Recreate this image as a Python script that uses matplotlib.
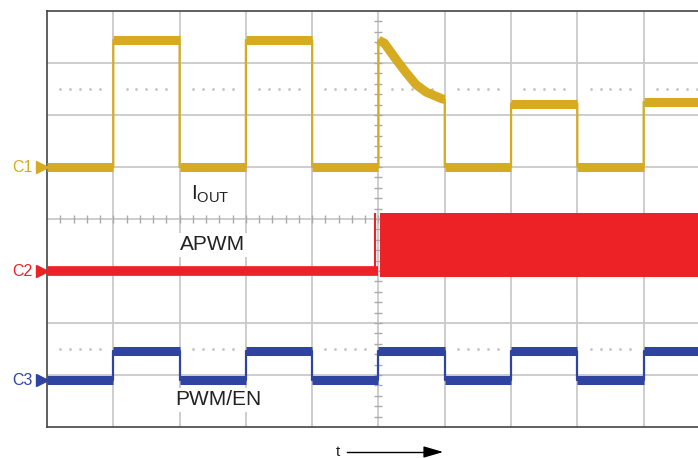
import numpy as np
import matplotlib.pyplot as plt

plt.rcParams['font.family'] = ['Liberation Sans', 'DejaVu Sans']

# scope screen: 10 x 8 divisions, values in divisions
edges = [0, 1, 2, 3, 4, 5, 6, 7, 8, 9, 9.82]

# C1 - IOUT
iout_levels = [5.0, 7.44, 5.0, 7.44, 5.0, None, 5.0, 6.22, 5.0, 6.25]
iout_decay_x = [5.0, 5.09, 5.27, 5.42, 5.57, 5.72, 5.96, 6.0]
iout_decay_y = [7.44, 7.38, 7.06, 6.81, 6.58, 6.44, 6.31, 6.30]

# C2 - APWM
apwm_low = 3.0
apwm_spike_x = 4.95
apwm_spike_top = 4.1
apwm_burst_lo = 2.88
apwm_burst_hi = 4.12

# C3 - PWM/EN
pwm_levels = [0.9, 1.47, 0.9, 1.47, 0.9, 1.47, 0.9, 1.47, 0.9, 1.47]

c_yel = '#D6AB22'
c_red = '#EC2227'
c_blu = '#2E44A0'
c_grid = '#C9C9C9'

fig = plt.figure(figsize=(6.98, 4.58), dpi=100)
ax = fig.add_axes([47 / 698, 1 - 427 / 458, 651 / 698, 416 / 458])
ax.set_xlim(0, 9.82)
ax.set_ylim(0, 8)
ax.set_xticks([])
ax.set_yticks([])
for s in ['left', 'top', 'bottom']:
    ax.spines[s].set_color('#444444')
    ax.spines[s].set_linewidth(1.2)
ax.spines['right'].set_visible(False)

# graticule
for gx in range(1, 10):
    ax.axvline(gx, color=c_grid, lw=1.3, zorder=0)
for gy in range(1, 8):
    ax.axhline(gy, color=c_grid, lw=1.3, zorder=0)
tk = np.arange(0.2, 10, 0.2)
ax.plot(tk, np.full_like(tk, 4), ls='none', marker='|', ms=6, color='#AAAAAA', mew=1, zorder=0)
tky = np.arange(0.2, 8, 0.2)
ax.plot(np.full_like(tky, 5), tky, ls='none', marker='_', ms=6, color='#AAAAAA', mew=1, zorder=0)
dots = np.array([i + f for i in range(10) for f in (0.2, 0.35, 0.5, 0.65, 0.8)])
for dy in (6.5, 1.5):
    ax.plot(dots, np.full_like(dots, dy), ls='none', marker='.', ms=2, color='#C4C4C4', zorder=0)


def step_trace(levels, color, thick):
    xs, ys = [], []
    for i, lv in enumerate(levels):
        x0, x1 = edges[i], edges[i + 1]
        if lv is None:
            xs += iout_decay_x
            ys += iout_decay_y
            ax.plot(iout_decay_x, iout_decay_y, color=color, lw=thick, solid_capstyle='butt', zorder=3)
        else:
            xs += [x0, x1]
            ys += [lv, lv]
            ax.plot([x0, x1], [lv, lv], color=color, lw=thick, solid_capstyle='butt', zorder=3)
    ax.plot(xs, ys, color=color, lw=1.6, zorder=3)


step_trace(iout_levels, c_yel, 6.5)
step_trace(pwm_levels, c_blu, 6.5)

# APWM
ax.plot([0, 5.0], [apwm_low, apwm_low], color=c_red, lw=7, solid_capstyle='butt', zorder=3)
ax.plot([apwm_spike_x, apwm_spike_x], [apwm_low, apwm_spike_top], color=c_red, lw=1.5, zorder=3)
ax.fill_between([5.02, 9.82], apwm_burst_lo, apwm_burst_hi, color=c_red, lw=0, zorder=3)

# labels
box = dict(facecolor='white', edgecolor='none', pad=2)
ax.text(2.46, 4.48, r'$\mathregular{I_{OUT}}$', fontsize=15, color='#222222', ha='center', va='center', bbox=box, zorder=4)
ax.text(2.5, 3.5, 'APWM', fontsize=15, color='#222222', ha='center', va='center', bbox=box, zorder=4)
ax.text(2.58, 0.52, 'PWM/EN', fontsize=15, color='#222222', ha='center', va='center', bbox=box, zorder=4)

for lvl, name, col in [(5.0, 'C1', c_yel), (3.0, 'C2', c_red), (0.9, 'C3', c_blu)]:
    ax.plot(-0.08, lvl, marker='>', ms=9, color=col, clip_on=False, zorder=5)
    ax.text(-0.22, lvl, name, fontsize=11.5, color=col, ha='right', va='center')

# time arrow
fig.text(338 / 698, 1 - 452 / 458, 't', fontsize=11, color='#222222', ha='center', va='center')
fig.add_artist(plt.Line2D([347 / 698, 430 / 698], [1 - 452 / 458, 1 - 452 / 458], color='black', lw=1))
ax.annotate('', xy=(446 / 698, 1 - 452 / 458), xytext=(428 / 698, 1 - 452 / 458),
            xycoords='figure fraction',
            arrowprops=dict(arrowstyle='-|>,head_length=1.2,head_width=0.35', color='black', lw=1))

fig.savefig('out.png', dpi=100)
